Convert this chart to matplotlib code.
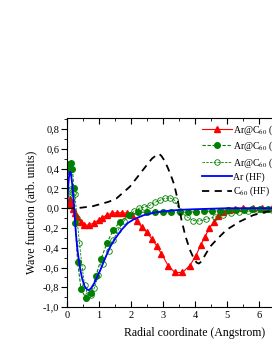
import numpy as np
import matplotlib
matplotlib.use('Agg')
import matplotlib.pyplot as plt
from matplotlib.ticker import MultipleLocator, FuncFormatter

plt.rcParams['font.family'] = ['Liberation Serif', 'DejaVu Serif']
plt.rcParams['mathtext.fontset'] = 'stix'

# Ar@C60 (1) - red triangles
r_red = [0.03, 0.08, 0.13, 0.18, 0.24, 0.32, 0.43, 0.53, 0.68, 0.83, 0.99,
         1.08, 1.24, 1.40, 1.55, 1.71, 1.86, 2.02, 2.18, 2.33, 2.49, 2.65,
         2.80, 2.95, 3.16, 3.37, 3.61, 3.84, 4.03, 4.18, 4.31, 4.45, 4.59,
         4.73, 4.88, 5.05, 5.25, 5.50, 5.80, 6.10, 6.40, 6.70, 7.00, 7.30,
         7.60, 7.90]
psi_red = [0.05, 0.09, 0.05, -0.01, -0.05, -0.09, -0.14, -0.17, -0.17, -0.15,
           -0.12, -0.10, -0.07, -0.05, -0.045, -0.045, -0.05, -0.07, -0.13,
           -0.19, -0.24, -0.31, -0.38, -0.46, -0.58, -0.65, -0.65, -0.58,
           -0.48, -0.37, -0.29, -0.20, -0.14, -0.08, -0.04, -0.02, -0.01,
           0.0, 0.0, 0.0, 0.0, 0.0, 0.0, 0.0, 0.0, 0.0]

# Ar@C60 (2) - green filled circles
r_gf = [0.03, 0.07, 0.12, 0.17, 0.21, 0.26, 0.33, 0.44, 0.59, 0.75, 0.90,
        1.07, 1.25, 1.45, 1.66, 1.95, 2.23, 2.50, 2.75, 3.00, 3.25, 3.53,
        3.78, 4.03, 4.28, 4.53, 4.78, 5.03, 5.28, 5.53, 5.78, 6.03, 6.28,
        6.53, 6.78, 7.03, 7.28, 7.53, 7.78]
psi_gf = [0.38, 0.45, 0.46, 0.40, 0.20, -0.15, -0.54, -0.82, -0.91, -0.86,
          -0.69, -0.51, -0.35, -0.22, -0.135, -0.07, -0.04, -0.04, -0.04,
          -0.04, -0.04, -0.04, -0.04, -0.035, -0.03, -0.03, -0.025, -0.02,
          -0.02, -0.015, -0.01, -0.01, -0.01, -0.005, 0.0, 0.0, 0.0, 0.0, 0.0]

# Ar@C60 (3) - green open circles
r_go = [0.03, 0.08, 0.14, 0.20, 0.25, 0.31, 0.39, 0.47, 0.55, 0.65, 0.75,
        0.85, 0.98, 1.12, 1.30, 1.45, 1.60, 1.78, 1.95, 2.10, 2.25, 2.40,
        2.59, 2.75, 2.90, 3.06, 3.22, 3.37, 3.53, 3.74, 3.95, 4.13, 4.36,
        4.62, 4.88, 5.13, 5.39, 5.65, 5.90, 6.15, 6.40, 6.65, 6.90, 7.15,
        7.40, 7.65, 7.90]
psi_go = [0.10, 0.17, 0.19, 0.15, 0.14, -0.10, -0.35, -0.59, -0.78, -0.88,
          -0.88, -0.81, -0.68, -0.56, -0.43, -0.32, -0.22, -0.13, -0.07,
          -0.03, 0.0, 0.01, 0.03, 0.06, 0.08, 0.10, 0.105, 0.08, -0.03,
          -0.085, -0.125, -0.13, -0.11, -0.09, -0.07, -0.045, -0.035, -0.03,
          -0.02, -0.02, -0.015, -0.01, -0.01, -0.005, 0.0, 0.0, 0.0]

# Ar (HF) - blue line
r_ar = [0.0, 0.03, 0.06, 0.09, 0.12, 0.16, 0.20, 0.24, 0.28, 0.32, 0.36,
        0.42, 0.48, 0.55, 0.62, 0.68, 0.75, 0.85, 0.95, 1.05, 1.20, 1.35,
        1.50, 1.70, 1.90, 2.10, 2.40, 2.80, 3.20, 3.60, 4.00, 4.50, 5.00,
        6.00, 7.00, 8.00]
psi_ar = [0.0, 0.18, 0.31, 0.37, 0.36, 0.25, 0.10, -0.08, -0.26, -0.40,
          -0.50, -0.63, -0.72, -0.79, -0.82, -0.83, -0.81, -0.76, -0.69,
          -0.62, -0.50, -0.39, -0.31, -0.22, -0.15, -0.11, -0.07, -0.04,
          -0.025, -0.015, -0.01, -0.005, 0.0, 0.0, 0.0, 0.0]

# C60 (HF) - black dashed
r_c60 = [0.0, 0.3, 0.8, 1.3, 1.55, 1.97, 2.38, 2.65, 2.80, 2.88, 2.95, 3.05,
         3.15, 3.25, 3.35, 3.45, 3.58, 3.70, 3.84, 3.95, 4.05, 4.12, 4.20,
         4.36, 4.50, 4.67, 4.98, 5.40, 5.82, 6.24, 6.70, 7.20, 8.00]
psi_c60 = [0.0, 0.0, 0.02, 0.065, 0.10, 0.22, 0.39, 0.50, 0.54, 0.55, 0.53,
           0.48, 0.41, 0.33, 0.24, 0.10, -0.12, -0.28, -0.42, -0.50, -0.55,
           -0.56, -0.54, -0.45, -0.38, -0.32, -0.22, -0.135, -0.07, -0.035,
           -0.02, -0.01, 0.0]

fig = plt.figure(figsize=(2.72, 3.52), dpi=100)
ax = fig.add_axes([0.2463, 0.1278, 0.941, 0.536])

ax.plot(r_red, psi_red, '-', color='red', lw=0.8, marker='^', ms=4,
        label=r'Ar@C$_{60}$ (1)')
ax.plot(r_gf, psi_gf, '--', color='green', lw=0.8, dashes=(3, 1.5),
        marker='o', ms=4, label=r'Ar@C$_{60}$ (2)')
ax.plot(r_go, psi_go, '--', color='green', lw=0.6, dashes=(3, 1.5),
        marker='o', ms=4, mfc='none', mew=0.6, label=r'Ar@C$_{60}$ (HF)')
ax.plot(r_ar, psi_ar, '-', color='blue', lw=1.3, label='Ar (HF)')
ax.plot(r_c60, psi_c60, '--', color='black', lw=1.3, dashes=(4, 3),
        label=r'C$_{60}$ (HF)')

ax.set_xlim(0, 8)
ax.set_ylim(-1.0, 0.91)
ax.spines['right'].set_visible(False)

ax.xaxis.set_major_locator(MultipleLocator(1))
ax.xaxis.set_minor_locator(MultipleLocator(0.5))
ax.yaxis.set_major_locator(MultipleLocator(0.2))
ax.yaxis.set_minor_locator(MultipleLocator(0.1))
ax.yaxis.set_major_formatter(FuncFormatter(lambda v, p: ('%.1f' % v).replace('.', ',')))

ax.tick_params(axis='x', which='both', direction='in', top=True, labelsize=7.5, pad=3)
ax.tick_params(axis='x', which='major', length=4, width=0.8)
ax.tick_params(axis='x', which='minor', length=2, width=0.6)
ax.tick_params(axis='y', which='both', direction='out', labelsize=7.5, pad=1.5)
ax.tick_params(axis='y', which='major', length=4, width=0.8)
ax.tick_params(axis='y', which='minor', length=2, width=0.6)

ax.set_xlabel('Radial coordinate (Angstrom)', fontsize=8.5, labelpad=5)
ax.set_ylabel('Wave function (arb. units)', fontsize=8.5, labelpad=4)

ax.legend(loc='upper left', bbox_to_anchor=(0.742, 0.65),
          bbox_transform=fig.transFigure, frameon=False, fontsize=7,
          numpoints=1, handlelength=3.1, handletextpad=0.15,
          labelspacing=0.3, borderpad=0, borderaxespad=0)

fig.savefig('out.png', dpi=100)
